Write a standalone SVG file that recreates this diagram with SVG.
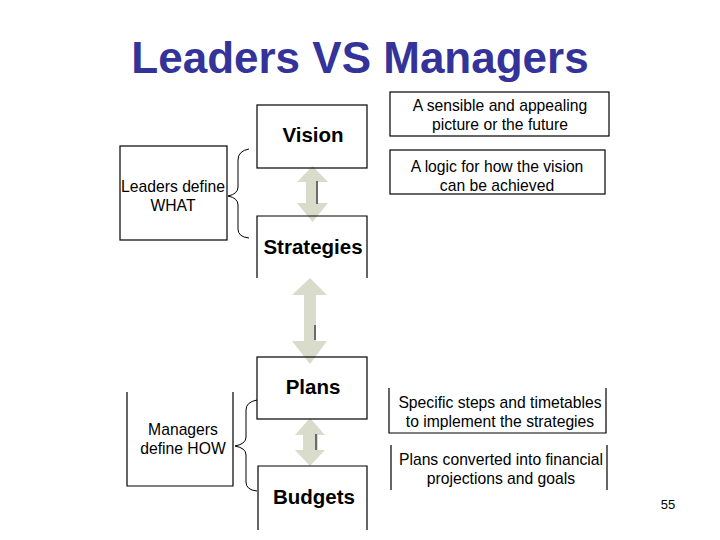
<svg xmlns="http://www.w3.org/2000/svg" width="720" height="540" viewBox="0 0 720 540">
<style>
.box{fill:none;stroke:#000;stroke-width:1.2}
.ln{fill:none;stroke:#000;stroke-width:1.2}
.br{fill:none;stroke:#000;stroke-width:1}
.arr{fill:#d9dccb;stroke:none}
.t{font-family:"Liberation Sans",Arial,sans-serif;fill:#000;text-anchor:middle}
.b{font-weight:bold;font-size:20.5px}
.r{font-size:15.7px}
</style>
<rect width="720" height="540" fill="#fff"/>
<text x="360" y="73" font-family="Liberation Sans,Arial,sans-serif" font-weight="bold" font-size="44" fill="#333399" text-anchor="middle">Leaders VS Managers</text>

<g id="connectors">
  <polygon class="arr" points="312.5,166 328,182 318,182 318,203 328,203 312.5,222 297,203 306,203 306,182 297,182"/>
  <line x1="317" y1="181" x2="317" y2="204" stroke="#222" stroke-width="1.2"/>
  <polygon class="arr" points="310,278 327,295 316,295 316,341 327,341 310,364 292,341 304,341 304,295 292,295"/>
  <line x1="315" y1="325" x2="315" y2="340" stroke="#222" stroke-width="1.2"/>
  <polygon class="arr" points="310,418 325,435 318,435 318,450 325,450 310,466 295,450 303,450 303,435 295,435"/>
  <line x1="316" y1="434" x2="316" y2="450" stroke="#222" stroke-width="1.2"/>
  <path class="br" d="M249,149 Q238,151 238,160 L238,187 Q238,194 228,196 Q238,198 238,205 L238,229 Q238,237 249,238"/>
  <path class="br" d="M257,400 Q246,402 246,410 L246,437 Q246,444 235,446 Q246,448 246,455 L246,482 Q246,490 257,491"/>
</g>

<g id="vision"><rect class="box" x="257" y="105" width="110" height="63"/><text class="t b" x="313" y="142">Vision</text></g>
<g id="strategies"><path class="ln" d="M257,278 V216 H367 V278"/><text class="t b" x="313" y="254">Strategies</text></g>
<g id="plans"><rect class="box" x="257" y="357" width="110" height="62"/><text class="t b" x="313" y="394">Plans</text></g>
<g id="budgets"><path class="ln" d="M258,530 V466 H367 V530"/><text class="t b" x="314" y="504">Budgets</text></g>

<g id="leaders"><rect class="box" x="120" y="146" width="107" height="94"/>
  <text class="t r" x="173" y="192">Leaders define</text><text class="t r" x="173" y="211">WHAT</text></g>
<g id="managers"><path class="ln" d="M127,392 V486 H233 V392"/>
  <text class="t r" x="183" y="435">Managers</text><text class="t r" x="183" y="454">define HOW</text></g>

<g id="desc-vision"><rect class="box" x="390" y="92" width="219" height="44"/>
  <text class="t r" x="500" y="111">A sensible and appealing</text><text class="t r" x="500" y="130">picture or the future</text></g>
<g id="desc-strategies"><rect class="box" x="390" y="150" width="215" height="44"/>
  <text class="t r" x="497" y="172">A logic for how the vision</text><text class="t r" x="497" y="191">can be achieved</text></g>
<g id="desc-plans"><path class="ln" d="M389,388 V433 H606 V388"/>
  <text class="t r" x="500" y="408">Specific steps and timetables</text><text class="t r" x="500" y="427">to implement the strategies</text></g>
<g id="desc-budgets"><path class="ln" d="M391,445 V490 M607,445 V490"/>
  <text class="t r" x="501" y="465">Plans converted into financial</text><text class="t r" x="501" y="484">projections and goals</text></g>

<text x="668" y="509" font-family="Liberation Sans,Arial,sans-serif" font-size="13" text-anchor="middle">55</text>
</svg>
